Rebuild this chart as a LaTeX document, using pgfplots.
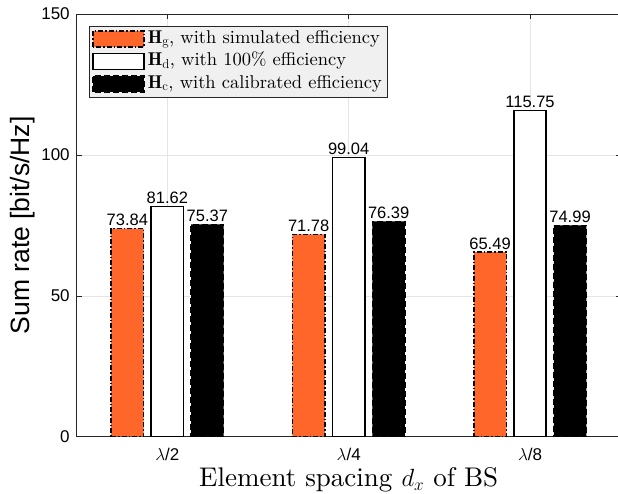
\documentclass[border=0pt]{standalone}
\usepackage{fontspec}
\usepackage{pgfplots}
\pgfplotsset{compat=1.18}
\newfontfamily\arial{Liberation Sans}
\newfontfamily\lmten{lmroman10-regular.otf}[BoldFont=lmroman10-bold.otf, ItalicFont=lmroman10-italic.otf]
\definecolor{myorange}{RGB}{255,102,41}
\definecolor{axgray}{RGB}{38,38,38}
\begin{document}
\begin{tikzpicture}
\begin{axis}[
  at={(0pt,0pt)}, anchor=south west,
  scale only axis, width=544pt, height=422.7pt,
  xmin=0.5, xmax=3.5, ymin=0, ymax=150,
  xtick={1,2,3}, xticklabels={{$\lambda$/2},{$\lambda$/4},{$\lambda$/8}},
  ytick={0,50,100,150},
  tick align=inside, major tick length=5pt,
  tick style={axgray, line width=0.5pt},
  axis line style={axgray, line width=0.6pt},
  grid=major, grid style={black!10, line width=0.5pt},
  ticklabel style={font=\arial\fontsize{17}{20}\selectfont},
  /pgf/number format/assume math mode=true,
  xticklabel style={yshift=-8pt},
  yticklabel style={xshift=-3.5pt},
  xlabel={Element spacing $d_x$ of BS},
  xlabel style={font=\lmten\fontsize{27}{31}\selectfont, at={(axis description cs:0.5,0)}, anchor=base, yshift=-50pt},
  ylabel={Sum rate [bit/s/Hz]},
  ylabel style={font=\arial\fontsize{26.5}{30}\selectfont, at={(axis description cs:0,0.5)}, anchor=center, yshift=53.7pt},
  legend style={at={(axis description cs:0,1)}, anchor=north west, xshift=12.3pt, yshift=-12pt,
     fill=black!6, draw=axgray, line width=0.5pt, font=\lmten\fontsize{18.5}{21}\selectfont,
     inner xsep=3pt, inner ysep=3pt, row sep=3pt, /tikz/column sep=1pt,
     nodes={inner xsep=2pt, inner ysep=1pt, text height=13pt, text depth=4.5pt}},
  legend cell align=left,
  nodes near coords,
  every node near coord/.append style={font=\arial\fontsize{16.5}{19}\selectfont, anchor=south, inner sep=2pt,
     /pgf/number format/fixed, /pgf/number format/fixed zerofill, /pgf/number format/precision=2},
]
\addplot[ybar, bar width=32.5pt, bar shift=-40pt, fill=myorange, draw=black, line width=1.5pt, dash pattern=on 5pt off 2pt on 1.5pt off 2pt,
  every node near coord/.append style={xshift=-40pt, solid},
  legend image code/.code={\draw[fill=myorange, draw=black, line width=1.5pt, dash pattern=on 5pt off 2pt on 1.5pt off 2pt] (0pt,-8pt) rectangle (51pt,8pt);}]
  coordinates {(1,73.84) (2,71.78) (3,65.49)};
\addlegendentry{$\mathbf{H}_{\mathrm{g}}$, with simulated efficiency}
\addplot[ybar, bar width=32.5pt, bar shift=0pt, fill=white, draw=black, line width=1.6pt,
  legend image code/.code={\draw[fill=white, draw=black, line width=1.6pt] (0pt,-8pt) rectangle (51pt,8pt);}]
  coordinates {(1,81.62) (2,99.04) (3,115.75)};
\addlegendentry{$\mathbf{H}_{\mathrm{d}}$, with 100\% efficiency}
\addplot[ybar, bar width=32.5pt, bar shift=40pt, fill=black, draw=black, line width=1.5pt, dash pattern=on 6pt off 3pt,
  every node near coord/.append style={xshift=40pt, solid},
  legend image code/.code={\draw[fill=black, draw=black, line width=1.5pt, dash pattern=on 6pt off 3pt] (0pt,-8pt) rectangle (51pt,8pt);}]
  coordinates {(1,75.37) (2,76.39) (3,74.99)};
\addlegendentry{$\mathbf{H}_{\mathrm{c}}$, with calibrated efficiency}
\end{axis}
\pgfresetboundingbox
\useasboundingbox (-76.7pt,-56.3pt) rectangle (541.3pt,436.7pt);
\end{tikzpicture}
\end{document}
